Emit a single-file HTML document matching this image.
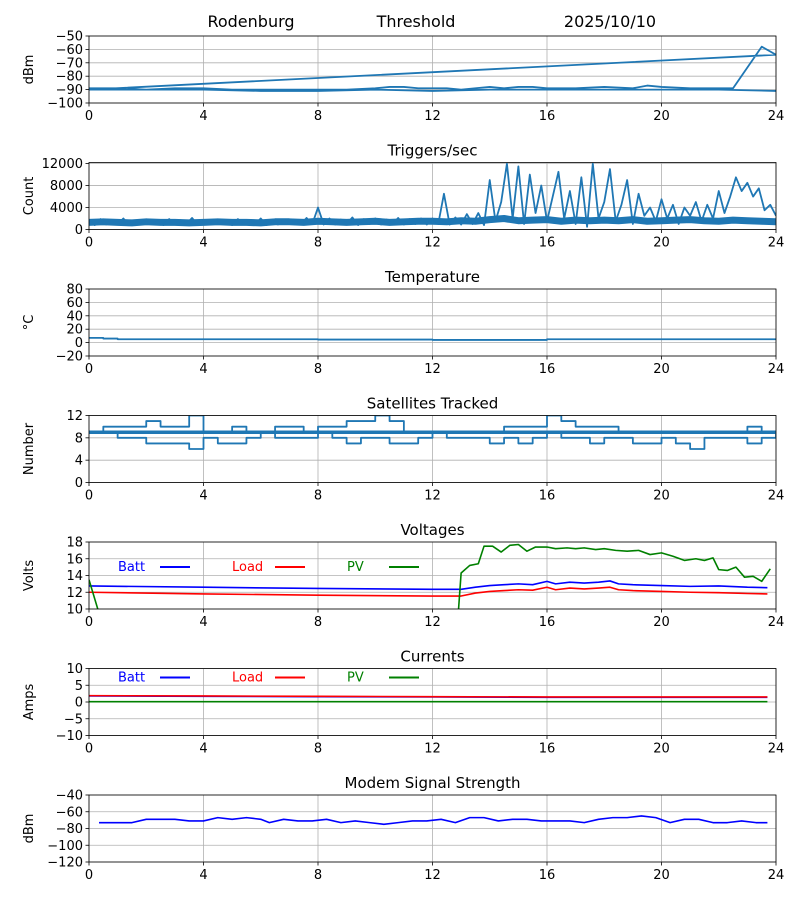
<!DOCTYPE html>
<html><head><meta charset="utf-8"><style>
body{margin:0;background:#fff;}
svg{display:block;font-family:"DejaVu Sans","Liberation Sans",sans-serif;}
</style></head><body>
<svg id="fig" width="800" height="900" viewBox="0 0 800 900" xmlns="http://www.w3.org/2000/svg">
<text x="251" y="27" font-size="16" text-anchor="middle">Rodenburg</text>
<text x="416" y="27" font-size="16" text-anchor="middle">Threshold</text>
<text x="610" y="27" font-size="16" text-anchor="middle">2025/10/10</text>
</svg>
<script>
const xTicks=[0,4,8,12,16,20,24];
// Threshold
const thrHours=[0,1,2,3,4,5,6,7,8,9,10,10.5,11,11.5,12,12.5,13,13.5,14,14.5,15,15.5,16,17,18,19,19.5,20,21,22,22.5,23.5,24,0,2,4,6,8,10,12,14,16,18,20,22,24];
const thrVals=[-89,-89,-90,-89,-89,-90,-90,-90,-90,-90,-89,-88,-88,-89,-89,-89,-90,-89,-88,-89,-88,-88,-89,-89,-88,-89,-87,-88,-89,-89,-89,-58,-64,-90,-90,-90,-91,-91,-90,-91,-90,-90,-90,-90,-90,-91];
// Triggers baseline band (step 0.5h)
const trigBase=[1300,1400,1300,1200,1400,1300,1300,1200,1300,1400,1300,1300,1200,1400,1400,1300,1500,1400,1300,1400,1500,1300,1400,1500,1500,1400,1600,1500,1800,2000,1600,1700,1800,1500,1700,1600,1700,1600,1800,1500,1600,1700,1800,1600,1500,1700,1600,1500,1400];
// Triggers spikes (step 0.2h)
const trigVals=[1500,800,1900,900,1700,1000,2000,800,1600,900,1800,1000,1500,800,1900,900,1700,1000,2100,800,1600,900,1800,1000,1500,800,1900,900,1700,1000,2000,800,1600,900,1800,1000,1500,900,2100,1000,
4000,900,2000,900,1800,1000,2200,800,1900,1000,2000,900,1800,1000,2100,900,1900,1000,2000,900,2000,1000,6500,900,
2200,900,2800,1000,3000,800,9000,1500,5000,12000,2000,11500,1000,10000,3000,8000,1500,6000,10500,2000,7000,1000,9500,500,12000,2000,5000,11000,1500,4500,9000,1000,6500,2500,4000,1500,5500,2000,4500,1000,4000,2500,5000,1500,4500,2000,7000,3000,6000,9500,7000,8500,6000,7500,3500,4500,2500];
// Temperature
const tempHours=[0,0.5,1,4,8,12,16,20,24];
const tempVals=[7,6,5,5,4.5,4,5,5,4];
// Satellites (step 0.5h)
const satA=[9,10,10,10,11,10,10,12,9,9,10,9,9,10,10,9,10,10,11,11,12,11,9,9,9,9,9,9,9,10,10,10,12,11,10,10,10,9,9,9,9,9,9,9,9,9,10,9,9];
const satB=[9,9,8,8,7,7,7,6,8,7,7,8,9,8,8,8,9,8,7,8,8,7,7,8,9,8,8,8,7,8,7,8,9,8,8,7,8,8,7,7,8,7,6,8,8,8,7,8,9];
// Voltages
const vHours=[0,4,8,12,13,13.5,14,14.5,15,15.5,16,16.3,16.8,17.3,17.8,18.2,18.5,19,20,21,22,23,23.7];
const battV=[12.75,12.6,12.45,12.35,12.35,12.6,12.8,12.9,13.0,12.9,13.3,13.0,13.2,13.1,13.2,13.35,13.0,12.9,12.8,12.7,12.75,12.6,12.55];
const loadV=[12.0,11.8,11.65,11.55,11.55,11.9,12.1,12.2,12.3,12.25,12.6,12.3,12.5,12.4,12.5,12.6,12.3,12.2,12.1,12.0,11.95,11.85,11.8];
const pvHours=[0,0.35,12.9,13.0,13.3,13.6,13.8,14.1,14.4,14.7,15.0,15.3,15.6,16.0,16.3,16.7,17.0,17.3,17.7,18.0,18.4,18.8,19.2,19.6,20.0,20.4,20.8,21.2,21.5,21.8,22.0,22.3,22.6,22.9,23.2,23.5,23.8];
const pvV=[13.5,9.5,9.5,14.3,15.2,15.4,17.5,17.5,16.8,17.6,17.7,16.9,17.4,17.4,17.2,17.3,17.2,17.3,17.1,17.2,17.0,16.9,17.0,16.5,16.7,16.3,15.8,16.0,15.8,16.1,14.7,14.6,15.0,13.8,13.9,13.3,14.8];
// Currents
const cHours=[0,4,8,12,16,20,23.7];
const battA=[1.8,1.7,1.6,1.5,1.4,1.4,1.4];
const loadA=[1.9,1.8,1.7,1.6,1.5,1.5,1.5];
const pvA=[0.1,0.1,0.1,0.1,0.1,0.1,0.1];
// Modem
const modemHours=[0.35,1,1.5,2,2.5,3,3.5,4,4.5,5,5.5,6,6.3,6.8,7.3,7.8,8.3,8.8,9.3,9.8,10.3,10.8,11.3,11.8,12.3,12.8,13.3,13.8,14.3,14.8,15.3,15.8,16.3,16.8,17.3,17.8,18.3,18.8,19.3,19.8,20.3,20.8,21.3,21.8,22.3,22.8,23.3,23.7];
const modemVals=[-73,-73,-73,-69,-69,-69,-71,-71,-67,-69,-67,-69,-73,-69,-71,-71,-69,-73,-71,-73,-75,-73,-71,-71,-69,-73,-67,-67,-71,-69,-69,-71,-71,-71,-73,-69,-67,-67,-65,-67,-73,-69,-69,-73,-73,-71,-73,-73];

const svg=document.getElementById('fig');
const NS='http://www.w3.org/2000/svg';
const X0=89,X1=776,H=67;
function mk(tag,attrs,parent){const e=document.createElementNS(NS,tag);for(const k in attrs)e.setAttribute(k,attrs[k]);(parent||svg).appendChild(e);return e;}
function panel(i,name,title,ylab,ymin,ymax,yticks){
  const top=36+i*126.5;
  const g=mk('g',{});
  
  
  const xs=h=>X0+(X1-X0)*h/24;
  const ys=v=>top+H-(v-ymin)/(ymax-ymin)*H;
  const cp=mk('clipPath',{id:'cp'+i},g);
  mk('rect',{x:X0,y:top,width:X1-X0,height:H},cp);
  xTicks.forEach(t=>{
    const l=mk('line',{x1:xs(t),x2:xs(t),y1:top,y2:top+H,stroke:'#b0b0b0','stroke-width':0.8},g);
    
    mk('line',{x1:xs(t),x2:xs(t),y1:top+H,y2:top+H+3.5,stroke:'#000','stroke-width':0.8},g);
    const tx=mk('text',{x:xs(t),y:top+H+17,'font-size':13,'text-anchor':'middle'},g);tx.textContent=t;
    
  });
  yticks.forEach(t=>{
    const l=mk('line',{x1:X0,x2:X1,y1:ys(t),y2:ys(t),stroke:'#b0b0b0','stroke-width':0.8},g);
    
    mk('line',{x1:X0-3.5,x2:X0,y1:ys(t),y2:ys(t),stroke:'#000','stroke-width':0.8},g);
    const tx=mk('text',{x:X0-6,y:ys(t)+4.5,'font-size':13,'text-anchor':'end'},g);tx.textContent=String(t).replace('-','\u2212');
    
  });
  if(title){const tt=mk('text',{x:(X0+X1)/2,y:top-7,'font-size':15,'text-anchor':'middle'},g);tt.textContent=title;
    }
  const yl=mk('text',{x:0,y:0,'font-size':13,'text-anchor':'middle',transform:`translate(33,${top+H/2}) rotate(-90)`},g);yl.textContent=ylab;
  
  const lines=mk('g',{'clip-path':`url(#cp${i})`},g);
  const frame=mk('rect',{x:X0,y:top,width:X1-X0,height:H,fill:'none',stroke:'#000','stroke-width':0.8},g);
  
  return {xs,ys,lines,top,frame,g};
}
function line(p,hs,vs,color,w,name,step){
  let d='';
  for(let k=0;k<hs.length;k++){
    const x=p.xs(hs[k]),y=p.ys(vs[k]);
    if(k===0)d+=`M${x},${y}`;
    else if(step)d+=`H${x}V${y}`;
    else d+=`L${x},${y}`;
  }
  const e=mk('path',{d,fill:'none',stroke:color,'stroke-width':w,'stroke-linejoin':'round'},p.lines);
  
  
  return e;
}
function legend(p,dy){
  const items=[['Batt','#0000ff',118,160],['Load','#ff0000',232,275],['PV','#008000',347,389]];
  items.forEach(([t,c,tx,lx])=>{
    const e=mk('text',{x:tx,y:p.top+dy+4,'font-size':13,fill:c},p.g);e.textContent=t;
    
    
    mk('line',{x1:lx,x2:lx+30,y1:p.top+dy,y2:p.top+dy,stroke:c,'stroke-width':2},p.g);
  });
}
const C='#1f77b4';
let p=panel(0,'threshold',null,'dBm',-100,-50,[-50,-60,-70,-80,-90,-100]);
line(p,thrHours,thrVals,C,1.8,'threshold-line');
p=panel(1,'triggers','Triggers/sec','Count',0,12200,[0,4000,8000,12000]);
line(p,trigBase.map((v,k)=>k*0.5),trigBase,C,7,'triggers-baseline-band');
line(p,trigVals.map((v,k)=>k*0.2),trigVals,C,1.8,'triggers-line');
p=panel(2,'temperature','Temperature','\u00b0C',-20,80,[-20,0,20,40,60,80]);
line(p,tempHours,tempVals,C,1.8,'temperature-line',true);
p=panel(3,'satellites','Satellites Tracked','Number',0,12,[0,4,8,12]);
line(p,[0,24],[9,9],C,3.5,'satellites-baseline');
line(p,satA.map((v,k)=>k*0.5),satA,C,1.8,'satellites-upper-line',true);
line(p,satB.map((v,k)=>k*0.5),satB,C,1.8,'satellites-lower-line',true);
p=panel(4,'voltages','Voltages','Volts',10,18,[10,12,14,16,18]);
line(p,vHours,battV,'#0000ff',1.6,'batt-voltage-line');
line(p,vHours,loadV,'#ff0000',1.6,'load-voltage-line');
line(p,pvHours,pvV,'#008000',1.6,'pv-voltage-line');
legend(p,25);
p=panel(5,'currents','Currents','Amps',-10,10,[-10,-5,0,5,10]);
line(p,cHours,battA,'#0000ff',1.6,'batt-current-line');
line(p,cHours,loadA,'#ff0000',1.6,'load-current-line');
line(p,cHours,pvA,'#008000',1.6,'pv-current-line');
legend(p,9);
p=panel(6,'modem','Modem Signal Strength','dBm',-120,-40,[-40,-60,-80,-100,-120]);
line(p,modemHours,modemVals,'#0000ff',1.6,'modem-signal-line');
</script>
</body></html>
